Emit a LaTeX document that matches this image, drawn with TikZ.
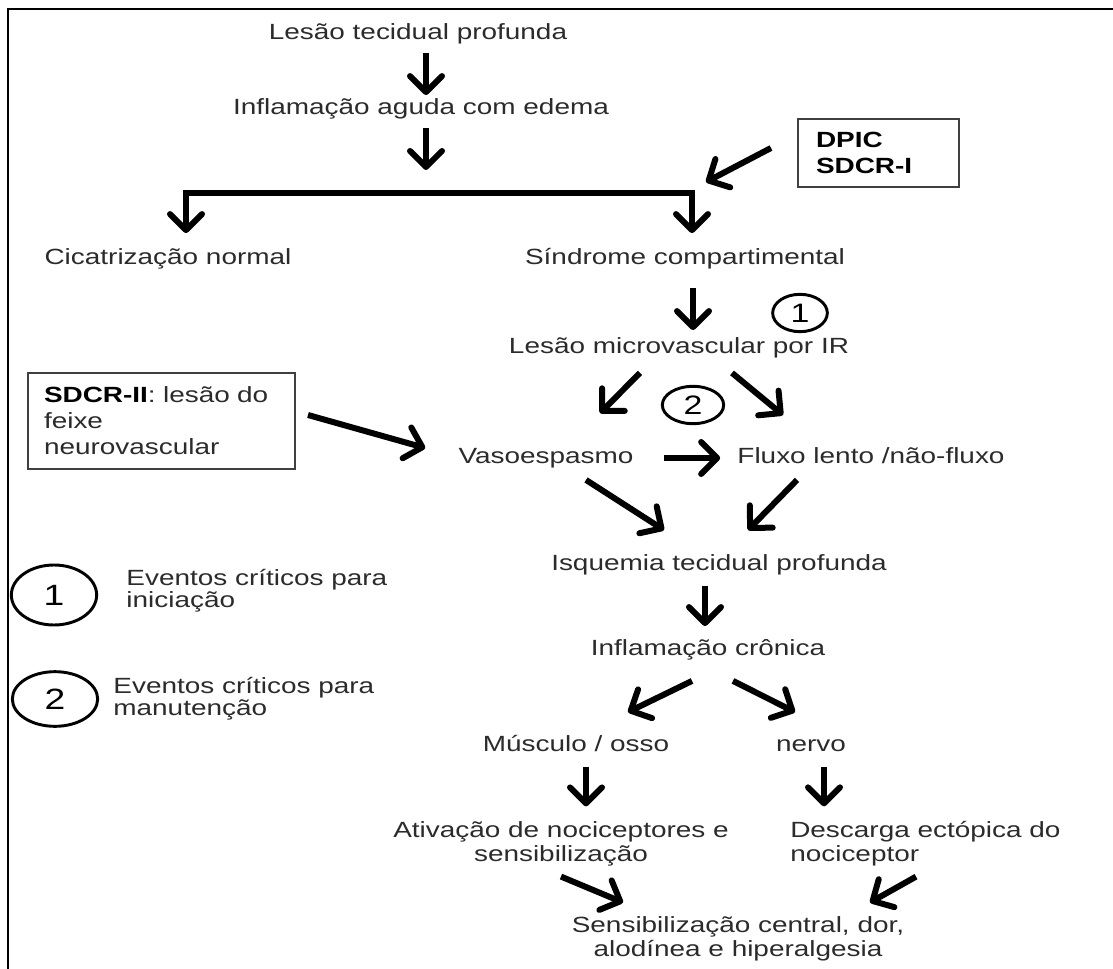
\documentclass[tikz,border=0pt]{standalone}
\usepackage{fontspec}
\setmainfont{Liberation Sans}[FakeStretch=1.27]
\usepackage{xcolor}
\usepackage{tikz}
\usetikzlibrary{arrows.meta,positioning,shapes.geometric,calc}
\definecolor{ink}{HTML}{2B2B2B}
\tikzset{
  txt/.style={inner sep=0pt,text height=12pt,text depth=4pt,font=\fontsize{16.5}{18}\selectfont,text=ink},
  txtm/.style={inner sep=0pt,align=center,font=\fontsize{16.5}{18}\selectfont,text=ink},
  box/.style={draw=black!75,line width=1.5pt,inner ysep=0pt,align=left,font=\fontsize{16.5}{19.5}\selectfont},
  ring/.style={ellipse,draw,line width=2.2pt,inner sep=0pt,font=\fontsize{20}{20}\selectfont},
  arr/.style={-{Straight Barb[length=12pt,width=24pt,line width=4.5pt,round]},line width=4.5pt},
  arrs/.style={{Straight Barb[length=12pt,width=24pt,line width=4.5pt,round]}-{Straight Barb[length=12pt,width=24pt,line width=4.5pt,round]},line width=4pt},
  frame/.style={line width=1.6pt},
}
\begin{document}
\begin{tikzpicture}[x=0.75pt,y=-0.75pt]
\useasboundingbox (0,0) rectangle (1113,969);
\draw[frame] (8,969) -- (8,9) -- (1113,9);
% upper chain
\node[txt] (lesao) at (418,34) {Lesão tecidual profunda};
\node[txt] (aguda) at (421,109) {Inflamação aguda com edema};
\node[txt] (cicat) at (168,259) {Cicatrização normal};
\node[txt] (sindr) at (685,259) {Síndrome compartimental};
\node[txt] (micro) at (679,348) {Lesão microvascular por IR};
\node[txt] (vaso) at (546,458) {Vasoespasmo};
\node[txt] (fluxo) at (871,458) {Fluxo lento /não-fluxo};
\node[txt] (isq) at (719,565) {Isquemia tecidual profunda};
\node[txt] (cron) at (708,650) {Inflamação crônica};
% lower branches
\node[txt] (musc) at (576,746) {Músculo / osso};
\node[txt] (nervo) at (811,746) {nervo};
\node[txtm] (ativ) at (561,844) {Ativação de nociceptores e\\sensibilização};
\node[txtm,align=left,anchor=west] (desc) at (790,844) {Descarga ectópica do\\nociceptor};
\node[txtm] (sens) at (738,939) {Sensibilização central, dor,\\alodínea e hiperalgesia};
% boxes
\node[box,text width=93.75pt,inner xsep=13.5pt,minimum height=51pt,font=\fontsize{16.5}{19.5}\selectfont\bfseries] (dpic) at (878.5,153) {DPIC\\SDCR-I};
\node[box,text width=176.25pt,inner xsep=12pt,minimum height=72pt,text=ink] (sdcr) at (161.5,421) {\textcolor{black}{\textbf{SDCR-II}}: lesão do\\feixe\\neurovascular};
% numbered events
\node[ring,minimum width=41pt,minimum height=28pt] (um) at (800,313) {1};
\node[ring,minimum width=46pt,minimum height=28pt] (dois) at (693,405) {2};
\node[ring,minimum width=64pt,minimum height=45pt,font=\fontsize{22}{22}\selectfont] (leg1) at (54,595) {1};
\node[ring,minimum width=64pt,minimum height=41pt,font=\fontsize{22}{22}\selectfont] (leg2) at (55,699) {2};
\node[txtm,align=left,anchor=west,font=\fontsize{16.5}{16.5}\selectfont,right=21pt of leg1,yshift=3pt] (legt1) {Eventos críticos para\\iniciação};
\node[txtm,align=left,anchor=west,font=\fontsize{16.5}{16.5}\selectfont,right=10.5pt of leg2] (legt2) {Eventos críticos para\\manutenção};
% arrows
\coordinate (fork) at (426,193);
\coordinate (barL) at (186,193);
\coordinate (barR) at (692,193);
\draw[arr] ($(lesao.south)+(8,8)$) -- ($(aguda.north)+(5,-3)$);
\draw[arr] ($(aguda.south)+(5,8)$) -- ($(fork)+(0,-23)$);
\draw[arrs] ($(barL |- cicat.north)+(0,-15)$) -- (barL) -- (barR) -- ($(barR |- sindr.north)+(0,-15)$);
\draw[arr] ($(dpic.west)+(-26,-5)$) -- ($(barR)+(14,-11)$);
\draw[arr] ($(sindr.south)+(8,18)$) -- ($(micro.north)+(14,-7)$);
\draw[arr] ($(micro.south)+(-39,14)$) -- ($(vaso.north)+(54,-34)$);
\draw[arr] ($(micro.south)+(53,14)$) -- ($(fluxo.north)+(-88,-32)$);
\draw[arr] ($(sdcr.east)+(12,-6)$) -- ($(vaso.west)+(-33,-10)$);
\draw[arr,shorten <=22.5pt,shorten >=12.75pt] (vaso.east) -- (fluxo.west);
\draw[arr] ($(vaso.south)+(40,11)$) -- ($(isq.north)+(-55,-24)$);
\draw[arr] ($(fluxo.south)+(-74,11)$) -- ($(isq.north)+(29,-24)$);
\draw[arr] ($(isq.south)+(-14,10)$) -- ($(cron.north)+(-3,-13)$);
\draw[arr] ($(cron.south)+(-16,20)$) -- ($(musc.north)+(52,-23)$);
\draw[arr] ($(cron.south)+(25,20)$) -- ($(nervo.north)+(-16,-23)$);
\draw[arr] ($(musc.south)+(10,10)$) -- ($(ativ.north)+(25,-15)$);
\draw[arr] ($(nervo.south)+(13,10)$) -- ($(desc.north west)+(34,-15)$);
\draw[arr] ($(ativ.south)+(0,10)$) -- ($(sens.north)+(-115,-14)$);
\draw[arr] ($(desc.south west)+(126,10)$) -- ($(sens.north)+(132,-14)$);
\end{tikzpicture}
\end{document}
